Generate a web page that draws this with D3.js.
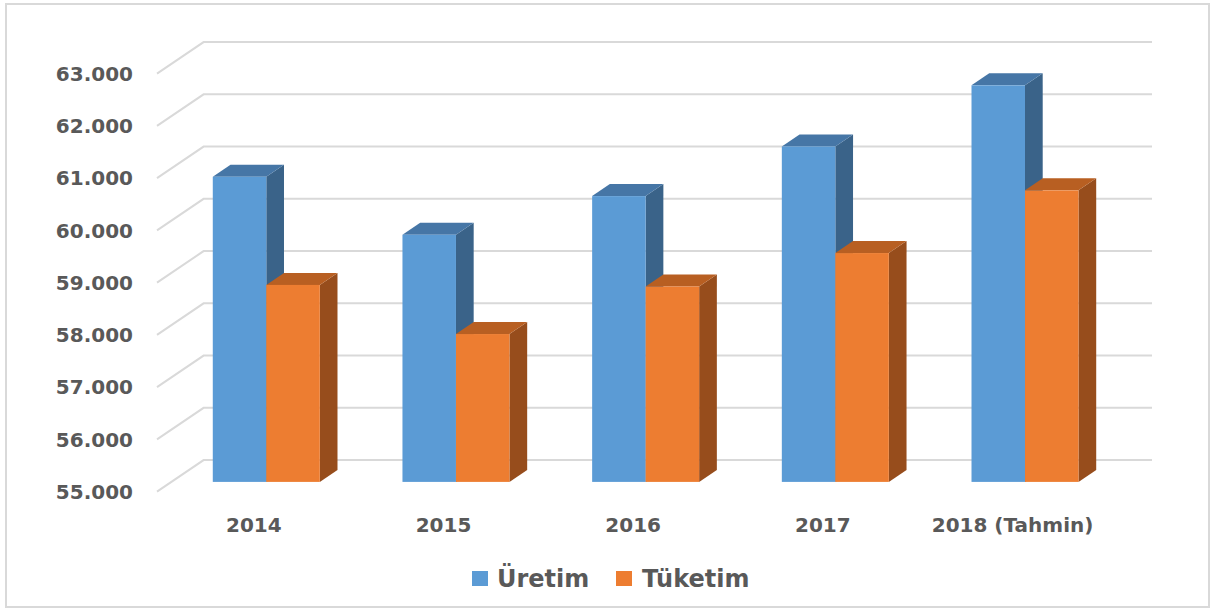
<!DOCTYPE html>
<html>
<head>
<meta charset="utf-8">
<script src="https://cdn.jsdelivr.net/npm/d3@7/dist/d3.min.js"></script>
<style>
  html, body { margin: 0; padding: 0; background: #ffffff; }
  svg { display: block; }
  text { font-family: "DejaVu Sans", sans-serif; font-weight: bold; fill: #595959; }
</style>
</head>
<body>
<svg id="chart" width="1211" height="608"></svg>
<script>
// ---- data ----
const categories = ["2014", "2015", "2016", "2017", "2018 (Tahmin)"];
const seriesNames = ["Üretim", "Tüketim"];
const uretim = [60840, 59730, 60470, 61420, 62590];
const tuketim = [58770, 57830, 58740, 59380, 60580];
const yTicks = [55000, 56000, 57000, 58000, 59000, 60000, 61000, 62000, 63000];

// ---- styles ----
const colors = {
  "Üretim": { front: "#5B9BD5", top: "#4676A6", side: "#3A6389" },
  "Tüketim": { front: "#ED7D31", top: "#B85F22", side: "#974D1C" }
};

const svg = d3.select("#chart");

// border
svg.append("rect")
  .attr("x", 6).attr("y", 4).attr("width", 1203).attr("height", 603)
  .attr("fill", "none").attr("stroke", "#d9d9d9").attr("stroke-width", 2);

// 3D geometry
const DX = 46.6, DY = -31.6;   // full depth vector
const f0 = 0.31, f1 = 0.69;   // bar depth range

const y = d3.scaleLinear().domain([55000, 63000]).range([491.7, 73.7]);
const x = d3.scaleBand().domain(categories).range([157, 1105.4]);
const barW = 53.5;

// gridlines
const fmt = d => d3.format(",")(d).replace(/,/g, ".");
const grid = svg.append("g");
grid.selectAll("path").data(yTicks).join("path")
  .attr("d", d => {
    const x0 = x.range()[0], yy = y(d);
    return `M${x0},${yy} L${x0 + DX},${yy + DY} L${x.range()[1] + DX},${yy + DY}`;
  })
  .attr("fill", "none").attr("stroke", "#d9d9d9").attr("stroke-width", 2);

// y labels
svg.append("g").selectAll("text").data(yTicks).join("text")
  .attr("x", 133).attr("y", d => y(d))
  .attr("dy", "0.36em")
  .attr("text-anchor", "end")
  .attr("font-size", 20)
  .text(fmt);

// category labels
svg.append("g").selectAll("text").data(categories).join("text")
  .attr("x", d => x(d) + x.bandwidth() / 2 + 2)
  .attr("y", 531.5)
  .attr("text-anchor", "middle")
  .attr("font-size", 20)
  .text(d => d);

// bars
const ox = f0 * DX, oy = f0 * DY;
const ddx = (f1 - f0) * DX, ddy = (f1 - f0) * DY;
const bars = [];
categories.forEach((c, i) => {
  const cx = x(c) + x.bandwidth() / 2 + ox;
  bars.push({ s: "Üretim", x0: cx - barW, v: uretim[i] });
  bars.push({ s: "Tüketim", x0: cx, v: tuketim[i] });
});

const bg = svg.append("g");
bars.forEach(b => {
  const x0 = b.x0, x1 = b.x0 + barW;
  const yb = y(55000) + oy, yt = y(b.v) + oy;
  const col = colors[b.s];
  const g = bg.append("g");
  g.append("path")
    .attr("d", `M${x1},${yt} L${x1 + ddx},${yt + ddy} L${x1 + ddx},${yb + ddy} L${x1},${yb} Z`)
    .attr("fill", col.side);
  g.append("path")
    .attr("d", `M${x0},${yt} L${x0 + ddx},${yt + ddy} L${x1 + ddx},${yt + ddy} L${x1},${yt} Z`)
    .attr("fill", col.top);
  g.append("rect")
    .attr("x", x0).attr("y", yt).attr("width", barW).attr("height", yb - yt)
    .attr("fill", col.front);
});

// legend
const legendItems = [
  { name: seriesNames[0], sx: 472, tx: 497 },
  { name: seriesNames[1], sx: 616, tx: 642 }
];
const lg = svg.append("g");
lg.selectAll("rect").data(legendItems).join("rect")
  .attr("x", d => d.sx).attr("y", 571).attr("width", 16).attr("height", 15)
  .attr("fill", d => colors[d.name].front);
lg.selectAll("text").data(legendItems).join("text")
  .attr("x", d => d.tx).attr("y", 586.5)
  .attr("font-size", 24)
  .text(d => d.name);
</script>
</body>
</html>
